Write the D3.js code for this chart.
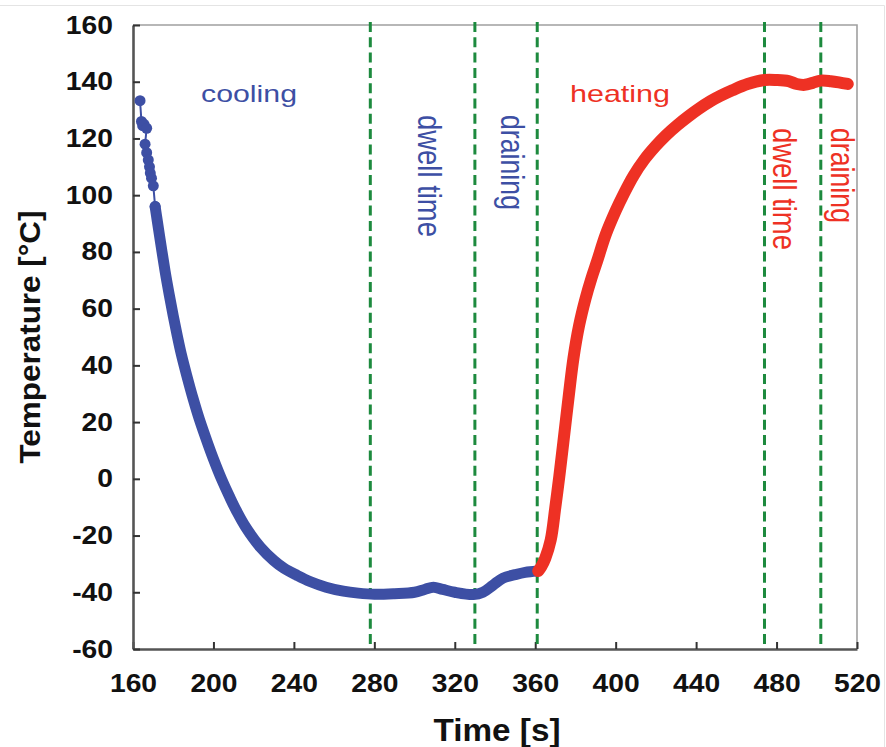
<!DOCTYPE html>
<html>
<head>
<meta charset="utf-8">
<script src="https://cdn.jsdelivr.net/npm/d3@7"></script>
<style>
  body { margin: 0; background: #fff; }
  text { font-family: "Liberation Sans", Arial, Helvetica, sans-serif; }
</style>
</head>
<body>
<div id="chart"></div>
<script>
// first scattered readings right after the switch to cooling
const earlyT = [163.5, 164.2, 164.8, 165.5, 166.8, 166, 166.8, 167.6, 168.2, 168.6, 169.2, 170.1, 171];
const earlyV = [133.3, 126, 124.5, 125, 123.6, 118, 115, 112.4, 110, 107.8, 106, 103.3, 96];

// cooling + dwell + draining (blue)
const coolT = [171, 172, 174, 176, 178, 180, 182, 184, 186.7, 190, 193, 197.4, 200, 204.2, 208, 211.6, 216, 223.2, 230, 235, 241.5, 248, 256, 264.6, 272, 280, 290, 300, 305, 309.4, 314, 320, 329.3, 334, 339, 344, 350, 355, 361];
const coolV = [96, 91.3, 82, 73, 65, 57.5, 50.5, 44, 36.5, 28, 21, 12, 7, -0.4, -6.3, -11.5, -17, -24, -28.8, -31.5, -34, -36.2, -38.2, -39.6, -40.3, -40.7, -40.5, -40, -39, -38.2, -39, -40, -40.8, -40, -37.5, -35, -33.8, -33, -32.5];

// heating + dwell + draining (red)
const heatT = [361.5, 363, 365, 367.7, 370, 372, 374, 376.8, 379, 381.8, 385, 388, 390.9, 395, 400, 404.2, 409, 414.1, 420, 425, 430.7, 436, 441, 447.3, 452, 458, 465.6, 474, 480, 486, 490, 494, 498, 502, 507, 511, 515.4];
const heatV = [-32.5, -31, -28, -21.6, -10, 1, 13, 30, 42.5, 54, 63.5, 70.8, 77, 86, 94.5, 100.7, 107, 112.4, 117.4, 121.1, 124.7, 127.7, 130.3, 133.2, 135, 137, 139.2, 140.6, 140.6, 140.2, 139.2, 138.9, 139.6, 140.4, 140.2, 139.8, 139.2];

// phase boundaries (s)
const phaseLines = [278, 330, 361, 474, 502];

const xTicks = [160, 200, 240, 280, 320, 360, 400, 440, 480, 520];
const yTicks = [-60, -40, -20, 0, 20, 40, 60, 80, 100, 120, 140, 160];

const blue = "#3d4fa4", red = "#ee3124", green = "#1d8a3e";

const W = 886, H = 747;
const x = d3.scaleLinear().domain([160, 520]).range([133, 857]);
const y = d3.scaleLinear().domain([-60, 160]).range([649, 25]);

const svg = d3.select("#chart").append("svg")
    .attr("width", W)
    .attr("height", H);

// faint outer frame of the figure
svg.append("path")
    .attr("d", "M0,5.5H884.5V747")
    .attr("fill", "none")
    .attr("stroke", "#e4e4e4");

// top / right frame
svg.append("path")
    .attr("d", `M${x(160)},${y(160)}H${x(520)}V${y(-60)}`)
    .attr("fill", "none")
    .attr("stroke", "#a0a0a0")
    .attr("stroke-width", 1.6);

// stretch text horizontally like the source font
function stretch(sel, k) {
  sel.each(function () {
    const l = this.getComputedTextLength();
    d3.select(this).attr("textLength", l * k).attr("lengthAdjust", "spacingAndGlyphs");
  });
}

const plain = d => String(d);   // keep ascii hyphen for negatives

const xAxis = svg.append("g")
    .attr("transform", `translate(0,${y(-60)})`)
    .call(d3.axisBottom(x).tickValues(xTicks).tickFormat(plain).tickSizeInner(-7).tickSizeOuter(0).tickPadding(25));

const yAxis = svg.append("g")
    .attr("transform", `translate(${x(160)},0)`)
    .call(d3.axisLeft(y).tickValues(yTicks).tickFormat(plain).tickSizeInner(-7).tickSizeOuter(0).tickPadding(20));

[xAxis, yAxis].forEach(ax => {
  ax.select(".domain").attr("stroke", "#555").attr("stroke-width", 2.6);
  ax.selectAll(".tick line").attr("stroke", "#333").attr("stroke-width", 2);
  ax.selectAll(".tick text")
      .attr("fill", "#111")
      .style("font-size", "25px")
      .style("font-weight", "bold")
      .call(stretch, 1.13);
});

// dashed phase boundaries
svg.selectAll(".phase")
    .data(phaseLines)
    .enter().append("line")
    .attr("class", "phase")
    .attr("x1", d => x(d)).attr("x2", d => x(d))
    .attr("y1", 22).attr("y2", y(-60) - 2)
    .attr("stroke", green)
    .attr("stroke-width", 3)
    .attr("stroke-dasharray", "10,5.3");

const line = d3.line().x(d => x(d[0])).y(d => y(d[1]));

// early cooling readings: dots joined by a thin line
const early = earlyT.map((t, i) => [t, earlyV[i]]);
svg.append("path")
    .datum(early)
    .attr("d", line)
    .attr("fill", "none")
    .attr("stroke", blue)
    .attr("stroke-width", 2);
svg.selectAll(".early")
    .data(early)
    .enter().append("circle")
    .attr("class", "early")
    .attr("cx", d => x(d[0]))
    .attr("cy", d => y(d[1]))
    .attr("r", 5.5)
    .attr("fill", blue);

const lineCurve = d3.line().curve(d3.curveCatmullRom.alpha(0.5)).x(d => x(d[0])).y(d => y(d[1]));

svg.append("path")
    .datum(coolT.map((t, i) => [t, coolV[i]]))
    .attr("d", lineCurve)
    .attr("fill", "none")
    .attr("stroke", blue)
    .attr("stroke-width", 11)
    .attr("stroke-linecap", "round")
    .attr("stroke-linejoin", "round");

svg.append("path")
    .datum(heatT.map((t, i) => [t, heatV[i]]))
    .attr("d", lineCurve)
    .attr("fill", "none")
    .attr("stroke", red)
    .attr("stroke-width", 12)
    .attr("stroke-linecap", "round")
    .attr("stroke-linejoin", "round");

// phase labels
const flat = [
  { text: "cooling", x: 201, y: 102, len: 96, color: blue },
  { text: "heating", x: 570, y: 102, len: 100, color: red }
];
svg.selectAll(".flatLabel")
    .data(flat)
    .enter().append("text")
    .attr("class", "flatLabel")
    .attr("x", d => d.x)
    .attr("y", d => d.y)
    .attr("textLength", d => d.len)
    .attr("lengthAdjust", "spacingAndGlyphs")
    .attr("fill", d => d.color)
    .style("font-size", "24px")
    .text(d => d.text);

const upright = [
  { text: "dwell time", x: 418, y: 115, len: 122, color: blue },
  { text: "draining", x: 501, y: 115, len: 95, color: blue },
  { text: "dwell time", x: 773, y: 128, len: 122, color: red },
  { text: "draining", x: 831, y: 128, len: 95, color: red }
];
svg.selectAll(".vLabel")
    .data(upright)
    .enter().append("text")
    .attr("class", "vLabel")
    .attr("transform", d => `translate(${d.x},${d.y}) rotate(90) scale(1,1.25)`)
    .attr("textLength", d => d.len)
    .attr("lengthAdjust", "spacingAndGlyphs")
    .attr("fill", d => d.color)
    .style("font-size", "26px")
    .text(d => d.text);

// axis titles
svg.append("text")
    .attr("x", 497)
    .attr("y", 741)
    .attr("text-anchor", "middle")
    .attr("textLength", 127)
    .attr("lengthAdjust", "spacingAndGlyphs")
    .attr("fill", "#111")
    .style("font-size", "31px")
    .style("font-weight", "bold")
    .text("Time [s]");

svg.append("text")
    .attr("transform", "translate(40,337) rotate(-90)")
    .attr("text-anchor", "middle")
    .attr("textLength", 253)
    .attr("lengthAdjust", "spacingAndGlyphs")
    .attr("fill", "#111")
    .style("font-size", "30px")
    .style("font-weight", "bold")
    .text("Temperature [°C]");
</script>
</body>
</html>
